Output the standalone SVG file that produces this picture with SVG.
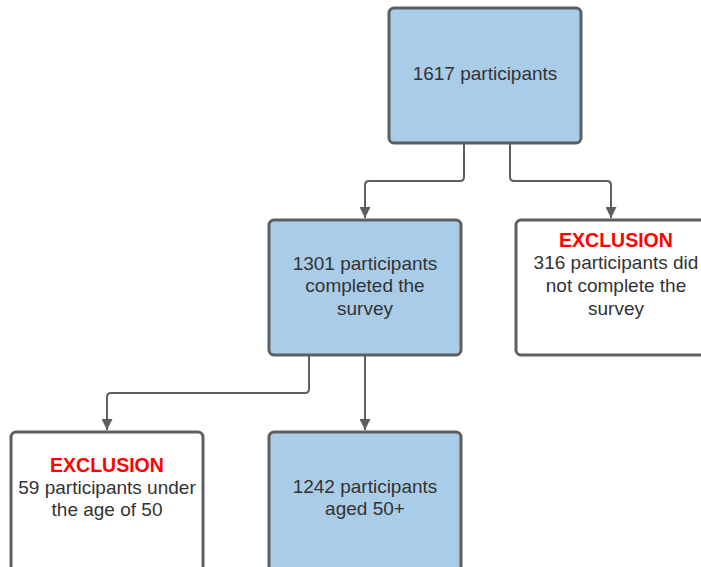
<svg xmlns="http://www.w3.org/2000/svg" width="701" height="567" viewBox="0 0 701 567">
<style>
.box{stroke:#5e5e5e;stroke-width:3}
.blue{fill:#a9cce9}
.white{fill:#ffffff}
.t{font-family:"Liberation Sans",Arial,sans-serif;font-size:19px;fill:#333333;text-anchor:middle}
.ex{font-family:"Liberation Sans",Arial,sans-serif;font-size:19.5px;font-weight:bold;fill:#ff0000;text-anchor:middle}
.c{fill:none;stroke:#5e5e5e;stroke-width:2}
</style>
<defs>
<marker id="ah" viewBox="0 0 10 10" refX="10" refY="5" markerWidth="11" markerHeight="11" markerUnits="userSpaceOnUse" orient="auto">
<path d="M0,0 L10,5 L0,10 Z" fill="#5e5e5e"/>
</marker>
</defs>
<rect width="701" height="567" fill="#ffffff"/>
<g id="connectors">
<path class="c" d="M464,144 V177 Q464,181 460,181 H369 Q365,181 365,185 V218" marker-end="url(#ah)"/>
<path class="c" d="M510,144 V177 Q510,181 514,181 H607 Q611,181 611,185 V218" marker-end="url(#ah)"/>
<path class="c" d="M309,356 V389 Q309,393 305,393 H111 Q107,393 107,397 V430" marker-end="url(#ah)"/>
<path class="c" d="M365,356 V430" marker-end="url(#ah)"/>
</g>
<g id="n1617">
<rect class="box blue" x="389" y="8" width="192" height="135" rx="5"/>
<text class="t" x="485" y="80">1617 participants</text>
</g>
<g id="n1301">
<rect class="box blue" x="269" y="220" width="192" height="135" rx="5"/>
<text class="t" x="365" y="270">1301 participants</text>
<text class="t" x="365" y="292">completed the</text>
<text class="t" x="365" y="315">survey</text>
</g>
<g id="n316">
<rect class="box white" x="516" y="220" width="200" height="135" rx="5"/>
<text class="ex" x="616" y="247">EXCLUSION</text>
<text class="t" x="616" y="269">316 participants did</text>
<text class="t" x="616" y="292">not complete the</text>
<text class="t" x="616" y="315">survey</text>
</g>
<g id="n59">
<rect class="box white" x="11" y="432" width="192" height="145" rx="5"/>
<text class="ex" x="107" y="472">EXCLUSION</text>
<text class="t" x="107" y="494">59 participants under</text>
<text class="t" x="107" y="516">the age of 50</text>
</g>
<g id="n1242">
<rect class="box blue" x="269" y="432" width="192" height="145" rx="5"/>
<text class="t" x="365" y="493">1242 participants</text>
<text class="t" x="365" y="515">aged 50+</text>
</g>
</svg>
